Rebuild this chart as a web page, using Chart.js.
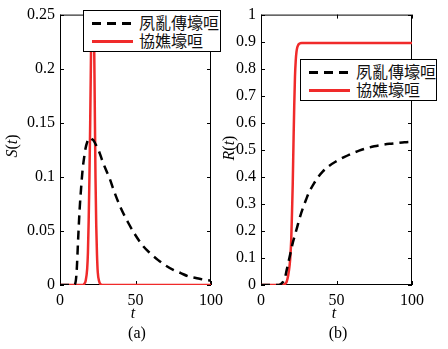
<!DOCTYPE html>
<html><head><meta charset="utf-8">
<script src="https://cdn.jsdelivr.net/npm/chart.js@4/dist/chart.umd.min.js"></script>
<style>
html,body{margin:0;padding:0;background:#fff;}
body{width:448px;height:349px;position:relative;overflow:hidden;font-family:"Liberation Serif","Times New Roman",serif;}
canvas{position:absolute;left:0;top:0;}
.lbl{position:absolute;font-size:16px;color:#000;white-space:nowrap;transform:translate(-50%,-50%);line-height:1;}
.ytitle{transform:translate(-50%,-50%) rotate(-90deg);}
.legend{position:absolute;background:#fff;border:1px solid #000;box-sizing:border-box;width:138px;height:42px;}
.sample{position:absolute;left:8px;width:41px;height:3px;}
.dash{background:repeating-linear-gradient(to right,#000 0 9px,transparent 9px 15px);}
.solid{background:#f02a2a;}
.txt{position:absolute;left:55px;font-family:"Noto Sans CJK SC","Noto Sans CJK TC",sans-serif;font-size:16px;line-height:18px;color:#111;white-space:nowrap;}
</style></head>
<body>
<canvas id="ca" width="448" height="349"></canvas>
<canvas id="cb" width="448" height="349"></canvas>

<div class="lbl ytitle" style="left:12px;top:146px;"><i>S</i>(<i>t</i>)</div>
<div class="lbl" style="left:133px;top:313px;"><i>t</i></div>
<div class="lbl" style="left:137px;top:333px;">(a)</div>

<div class="lbl ytitle" style="left:229px;top:148px;"><i>R</i>(<i>t</i>)</div>
<div class="lbl" style="left:334px;top:313px;"><i>t</i></div>
<div class="lbl" style="left:338px;top:333px;">(b)</div>

<div class="legend" id="legA" style="left:83px;top:10px;"></div>
<div class="legend" id="legB" style="left:300px;top:59px;width:137px;"></div>

<script>
// ---- labels ----
const seriesNames = ['夙亂傳壕咺', '協嫶壕咺'];
const xTicks = [0, 50, 100];
const yTicksA = [0, 0.05, 0.1, 0.15, 0.2, 0.25];
const yTickLabelsA = ['0', '0.05', '0.1', '0.15', '0.2', '0.25'];
const yTicksB = [0, 0.1, 0.2, 0.3, 0.4, 0.5, 0.6, 0.7, 0.8, 0.9, 1];
const yTickLabelsB = ['0', '0.1', '0.2', '0.3', '0.4', '0.5', '0.6', '0.7', '0.8', '0.9', '1'];

// ---- panel (a): S(t) ----
const tIndepA = [0, 9, 10, 11, 12, 13, 14, 15, 16, 17, 18, 19, 20, 21, 22, 24, 26, 28, 30, 33, 36, 40, 45, 50, 55, 60, 65, 70, 75, 80, 85, 90, 95, 100];
const sIndepA = [0, 0, 0.001, 0.012, 0.042, 0.07, 0.09, 0.107, 0.118, 0.127, 0.132, 0.135, 0.136, 0.135, 0.134, 0.129, 0.123, 0.115, 0.108, 0.098, 0.086, 0.072, 0.058, 0.046, 0.036, 0.029, 0.023, 0.018, 0.014, 0.011, 0.008, 0.0065, 0.005, 0.004];
const tCoopA = [0, 15, 16, 17, 18, 18.5, 19, 19.5, 20, 20.5, 21, 21.5, 22, 22.5, 23, 23.5, 24, 24.5, 25, 26, 27, 28, 100];
const sCoopA = [0, 0, 0.001, 0.004, 0.015, 0.03, 0.06, 0.1, 0.15, 0.21, 0.27, 0.3, 0.29, 0.24, 0.17, 0.1, 0.055, 0.028, 0.012, 0.003, 0.0005, 0, 0];

// ---- panel (b): R(t) ----
const tIndepB = [0, 12, 13, 14, 15, 16, 17, 18, 19, 20, 21, 22, 23, 24, 26, 28, 30, 32, 35, 38, 41, 45, 50, 55, 60, 65, 70, 75, 80, 85, 90, 95, 100];
const rIndepB = [0, 0, 0.003, 0.008, 0.015, 0.03, 0.055, 0.08, 0.105, 0.13, 0.155, 0.175, 0.195, 0.215, 0.255, 0.288, 0.318, 0.345, 0.375, 0.4, 0.42, 0.44, 0.458, 0.473, 0.486, 0.497, 0.506, 0.513, 0.518, 0.522, 0.525, 0.528, 0.53];
const tCoopB = [0, 14, 15, 16, 17, 18, 19, 19.5, 20, 20.5, 21, 21.5, 22, 22.5, 23, 23.5, 24, 24.5, 25, 26, 27, 100];
const rCoopB = [0, 0, 0.001, 0.004, 0.012, 0.035, 0.075, 0.11, 0.165, 0.26, 0.37, 0.52, 0.66, 0.77, 0.83, 0.862, 0.878, 0.886, 0.891, 0.894, 0.895, 0.895];

const RED = '#f02a2a';
const toXY = (xs, ys) => xs.map((x, i) => ({x: x, y: ys[i]}));

const framePlugin = {
  id: 'frame',
  beforeDatasetsDraw(chart) {
    const {ctx, chartArea: a, scales: {x, y}} = chart;
    ctx.save();
    ctx.strokeStyle = '#000';
    ctx.lineWidth = 1;
    ctx.strokeRect(a.left + 0.5, a.top + 0.5, a.right - a.left - 1, a.bottom - a.top - 1);
    ctx.beginPath();
    y.ticks.forEach(t => {
      const py = Math.round(y.getPixelForValue(t.value)) + 0.5;
      ctx.moveTo(a.left, py); ctx.lineTo(a.left + 4, py);
      ctx.moveTo(a.right, py); ctx.lineTo(a.right - 4, py);
    });
    x.ticks.forEach(t => {
      const px = Math.round(x.getPixelForValue(t.value)) + 0.5;
      ctx.moveTo(px, a.bottom); ctx.lineTo(px, a.bottom - 4);
      ctx.moveTo(px, a.top); ctx.lineTo(px, a.top + 4);
    });
    ctx.stroke();
    ctx.restore();
  }
};

function makeChart(id, d1, d2, yMax, yTicks, yLabels, pad, yWidth) {
  return new Chart(document.getElementById(id), {
    type: 'line',
    data: {
      datasets: [
        {label: seriesNames[0], data: d1, borderColor: '#000', borderWidth: 2.5, borderDash: [9, 6], pointRadius: 0, cubicInterpolationMode: 'monotone', fill: false},
        {label: seriesNames[1], data: d2, borderColor: RED, borderWidth: 2.5, pointRadius: 0, cubicInterpolationMode: 'monotone', fill: false}
      ]
    },
    options: {
      responsive: false,
      animation: false,
      devicePixelRatio: 1,
      layout: {padding: pad},
      plugins: {legend: {display: false}, tooltip: {enabled: false}},
      scales: {
        x: {
          type: 'linear', min: 0, max: 100,
          afterBuildTicks: s => { s.ticks = xTicks.map(v => ({value: v})); },
          afterFit: s => { s.height = 64; },
          grid: {display: false, drawTicks: false},
          border: {display: false},
          ticks: {color: '#000', font: {family: '"Liberation Serif", serif', size: 16}, padding: 6, maxRotation: 0, callback: v => String(v)}
        },
        y: {
          type: 'linear', min: 0, max: yMax,
          afterBuildTicks: s => { s.ticks = yTicks.map(v => ({value: v})); },
          afterFit: s => { s.width = yWidth; },
          grid: {display: false, drawTicks: false},
          border: {display: false},
          ticks: {color: '#000', font: {family: '"Liberation Serif", serif', size: 16}, padding: 5,
            callback: (v) => { const i = yTicks.findIndex(t => Math.abs(t - v) < 1e-9); return i >= 0 ? yLabels[i] : ''; }}
        }
      }
    },
    plugins: [framePlugin]
  });
}

makeChart('ca', toXY(tIndepA, sIndepA), toXY(tCoopA, sCoopA), 0.25, yTicksA, yTickLabelsA,
  {left: 0, right: 237, top: 11, bottom: 0}, 60);
makeChart('cb', toXY(tIndepB, rIndepB), toXY(tCoopB, rCoopB), 1, yTicksB, yTickLabelsB,
  {left: 224, right: 36, top: 11, bottom: 0}, 37);

function buildLegend(id) {
  const el = document.getElementById(id);
  el.innerHTML =
    '<div class="sample dash" style="top:11px;"></div><div class="txt" style="top:2px;">' + seriesNames[0] + '</div>' +
    '<div class="sample solid" style="top:29px;"></div><div class="txt" style="top:20px;">' + seriesNames[1] + '</div>';
}
buildLegend('legA');
buildLegend('legB');
</script>
</body></html>
